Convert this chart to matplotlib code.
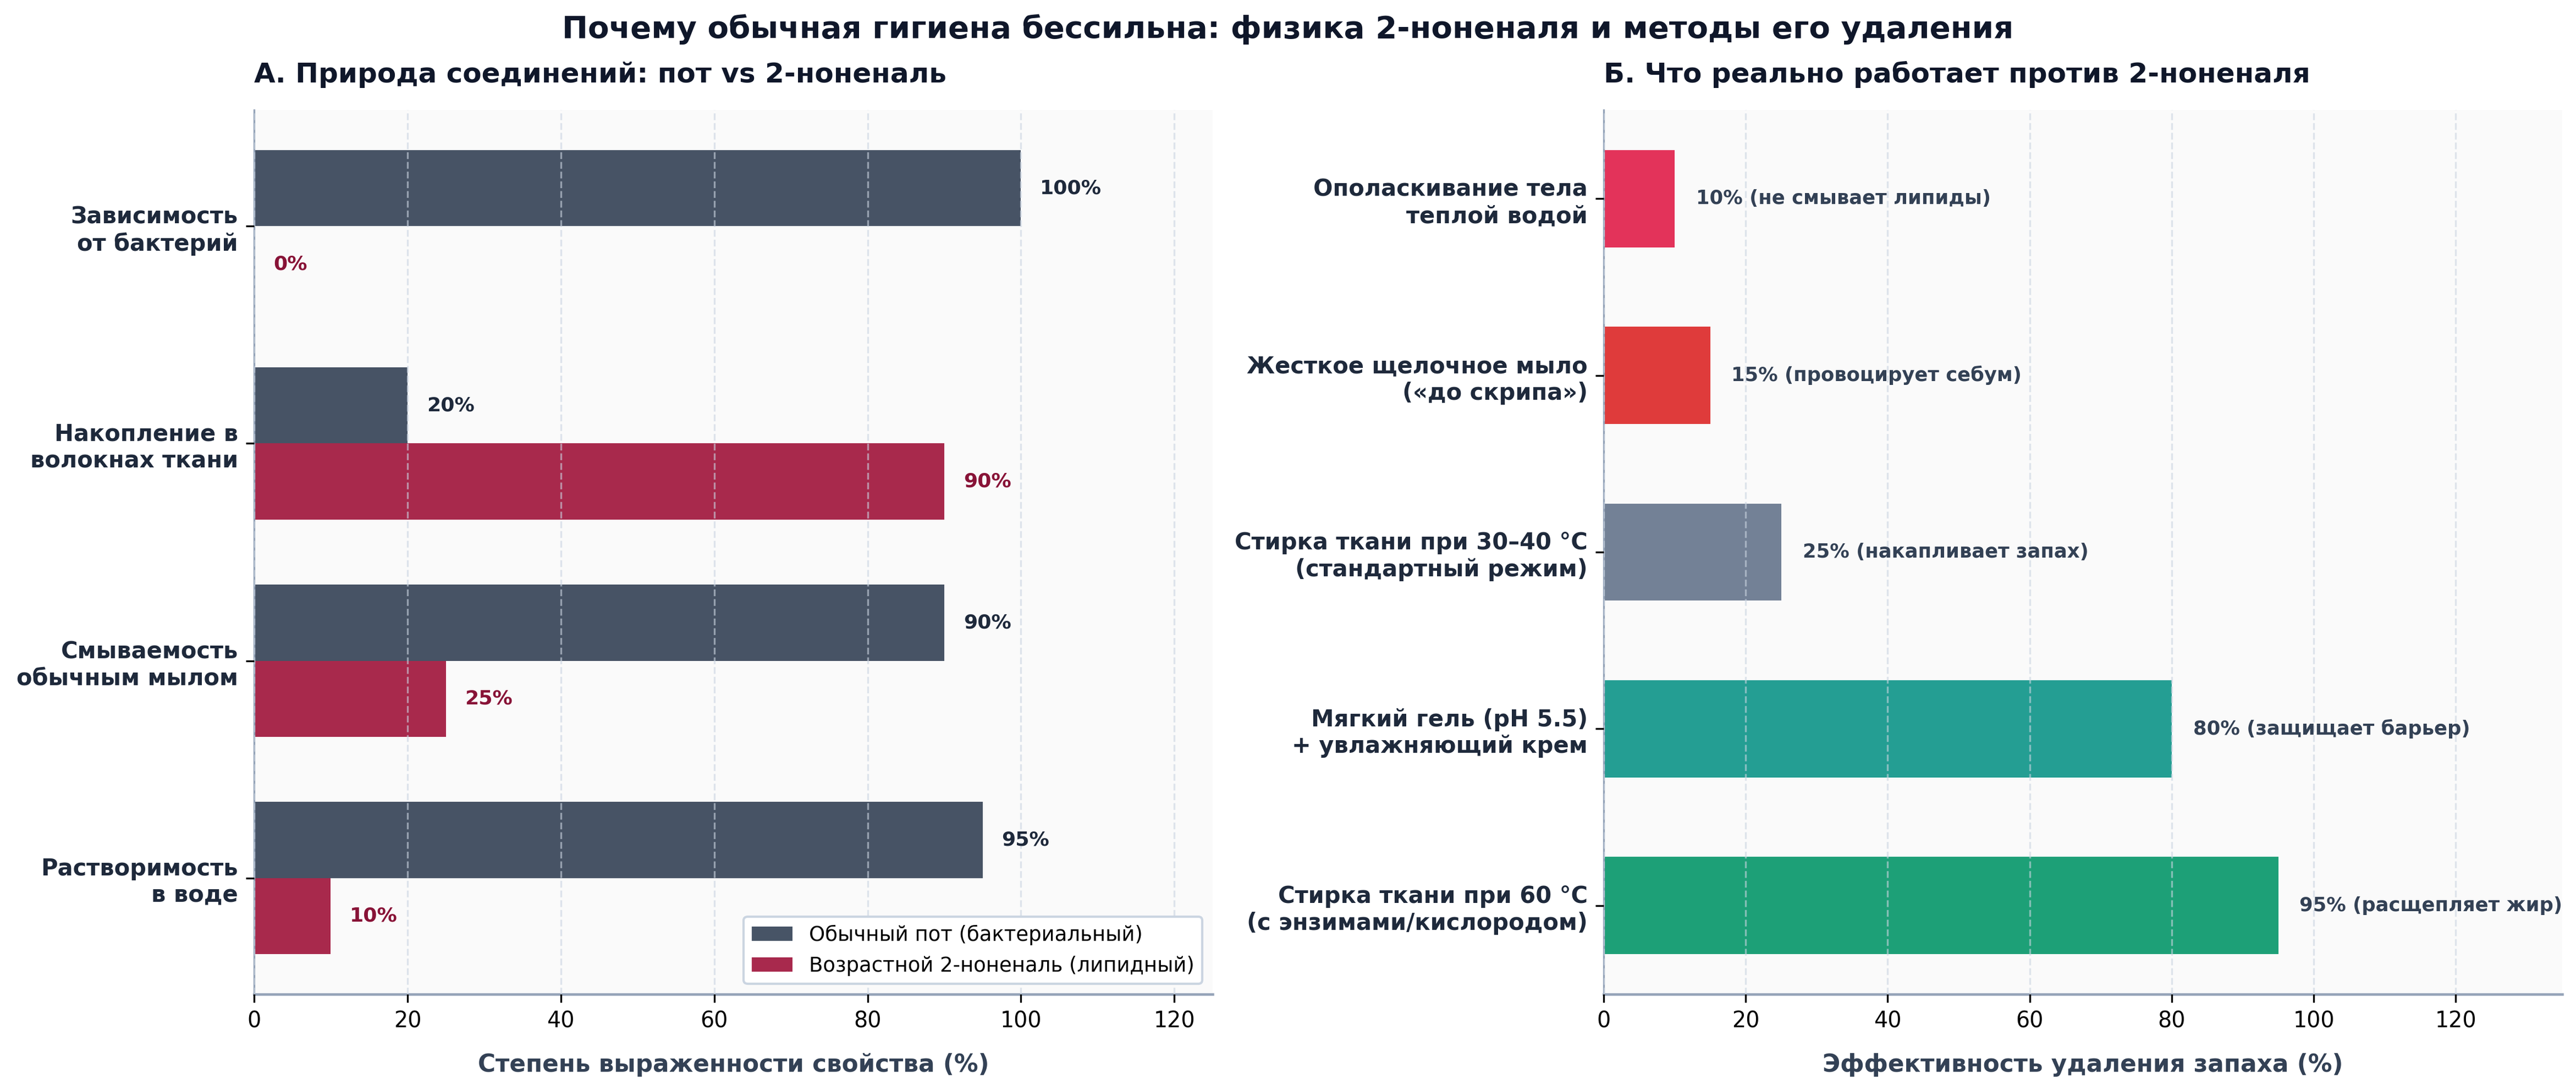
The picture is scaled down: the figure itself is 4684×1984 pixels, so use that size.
import matplotlib
matplotlib.use("Agg")
import matplotlib.pyplot as plt
import numpy as np

plt.rcParams['font.family'] = ['DejaVu Sans']

# ---- Data ----
left_categories = ["Зависимость\nот бактерий", "Накопление в\nволокнах ткани",
                   "Смываемость\nобычным мылом", "Растворимость\nв воде"]
sweat_values = [100, 20, 90, 95]
nonenal_values = [0, 90, 25, 10]
left_series_names = ["Обычный пот (бактериальный)", "Возрастной 2-ноненаль (липидный)"]

right_categories = ["Ополаскивание тела\nтеплой водой",
                    "Жесткое щелочное мыло\n(«до скрипа»)",
                    "Стирка ткани при 30–40 °C\n(стандартный режим)",
                    "Мягкий гель (pH 5.5)\n+ увлажняющий крем",
                    "Стирка ткани при 60 °C\n(с энзимами/кислородом)"]
right_values = [10, 15, 25, 80, 95]
right_notes = ["не смывает липиды", "провоцирует себум", "накапливает запах",
               "защищает барьер", "расщепляет жир"]
right_colors = ["#E11D48", "#DC2626", "#64748B", "#0D9488", "#059669"]

title = "Почему обычная гигиена бессильна: физика 2-ноненаля и методы его удаления"
left_title = "А. Природа соединений: пот vs 2-ноненаль"
right_title = "Б. Что реально работает против 2-ноненаля"
left_xlabel = "Степень выраженности свойства (%)"
right_xlabel = "Эффективность удаления запаха (%)"

# ---- Figure ----
fig = plt.figure(figsize=(4684/300, 1984/300), dpi=300)
ax1 = fig.add_axes([462/4684, 1 - 1808/1984, 1743/4684, (1808-200)/1984])
ax2 = fig.add_axes([2916/4684, 1 - 1808/1984, 1743/4684, (1808-200)/1984])

bg = "#FAFAFA"
spine_c = "#94A3B8"
text_dark = "#0F172A"
label_c = "#1E293B"
axis_lab_c = "#334155"

for ax in (ax1, ax2):
    ax.set_facecolor(bg)
    ax.spines['top'].set_visible(False)
    ax.spines['right'].set_visible(False)
    ax.spines['left'].set_color(spine_c)
    ax.spines['bottom'].set_color(spine_c)
    ax.spines['bottom'].set_linewidth(1.1)
    ax.grid(axis='x', linestyle='--', color='#CBD5E1', alpha=0.6, linewidth=0.8)
    ax.set_axisbelow(False)
    ax.tick_params(axis='x', labelsize=9.5, colors='black')
    ax.tick_params(axis='y', labelsize=10)

# Left panel
y = np.arange(len(left_categories))
h = 0.35
ax1.barh(y - h/2, sweat_values, height=h, color="#334155", alpha=0.9,
         label=left_series_names[0], zorder=1)
ax1.barh(y + h/2, nonenal_values, height=h, color="#9F1239", alpha=0.9,
         label=left_series_names[1], zorder=1)
for yi, v in zip(y, sweat_values):
    ax1.text(v + 2.5, yi - h/2, f"{v}%", va='center', ha='left', fontsize=8.7,
             fontweight='bold', color=label_c)
for yi, v in zip(y, nonenal_values):
    ax1.text(v + 2.5, yi + h/2, f"{v}%", va='center', ha='left', fontsize=8.7,
             fontweight='bold', color="#881337")
ax1.set_yticks(y)
ax1.set_yticklabels(left_categories, fontweight='bold', color=label_c)
ax1.invert_yaxis()
ax1.set_xlim(0, 125)
ax1.set_xticks([0, 20, 40, 60, 80, 100, 120])
ax1.set_xlabel(left_xlabel, fontsize=10.5, fontweight='bold', color=axis_lab_c, labelpad=9)
ax1.set_title(left_title, loc='left', fontsize=12, fontweight='bold', color=text_dark, pad=12)
leg = ax1.legend(loc='lower right', fontsize=8.9, frameon=True, fancybox=True)
leg.get_frame().set_edgecolor('#CBD5E1')
leg.get_frame().set_facecolor('white')
leg.get_frame().set_alpha(1)

# Right panel
y2 = np.arange(len(right_categories))
ax2.barh(y2, right_values, height=0.55, color=right_colors, alpha=0.9, zorder=1)
for yi, v, n in zip(y2, right_values, right_notes):
    ax2.text(v + 3, yi, f"{v}% ({n})", va='center', ha='left', fontsize=8.5,
             fontweight='bold', color=axis_lab_c)
ax2.set_yticks(y2)
ax2.set_yticklabels(right_categories, fontweight='bold', color=label_c)
ax2.invert_yaxis()
ax2.set_xlim(0, 135)
ax2.set_xticks([0, 20, 40, 60, 80, 100, 120])
ax2.set_xlabel(right_xlabel, fontsize=10.5, fontweight='bold', color=axis_lab_c, labelpad=9)
ax2.set_title(right_title, loc='left', fontsize=12, fontweight='bold', color=text_dark, pad=12)

fig.suptitle(title, fontsize=13.5, fontweight='bold', color=text_dark, y=0.987)

fig.savefig("out.png", dpi=300, facecolor='white')
